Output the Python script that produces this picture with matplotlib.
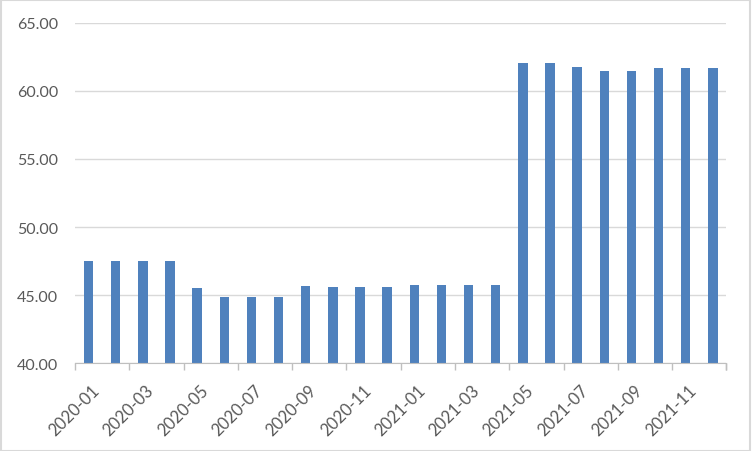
import matplotlib
matplotlib.use('Agg')
import matplotlib.pyplot as plt
import matplotlib.patches as mpatches
import numpy as np

plt.rcParams['font.family'] = ['Lato', 'DejaVu Sans']

months = ['2020-01', '2020-02', '2020-03', '2020-04', '2020-05', '2020-06',
          '2020-07', '2020-08', '2020-09', '2020-10', '2020-11', '2020-12',
          '2021-01', '2021-02', '2021-03', '2021-04', '2021-05', '2021-06',
          '2021-07', '2021-08', '2021-09', '2021-10', '2021-11', '2021-12']
values = [47.51, 47.51, 47.51, 47.51, 45.53, 44.89, 44.89, 44.89,
          45.70, 45.63, 45.63, 45.63, 45.77, 45.77, 45.77, 45.77,
          62.06, 62.06, 61.75, 61.48, 61.48, 61.67, 61.67, 61.67]
y_ticks = [40, 45, 50, 55, 60, 65]

fig = plt.figure(figsize=(7.52, 4.52), dpi=100)
fig.patch.set_facecolor('white')
ax = fig.add_axes([0.0997, 0.194, 0.8663, 0.7536])

x = np.arange(len(months))
ax.bar(x, [v - 40 for v in values], bottom=40, width=0.35, color='#4F81BD', zorder=3)

ax.set_xlim(-0.5, len(months) - 0.5)
ax.set_ylim(40, 65)
ax.set_yticks(y_ticks)
ax.set_yticklabels([f'{t:.2f}' for t in y_ticks], fontsize=11.5, color='#595959')
ax.grid(axis='y', color='#D9D9D9', linewidth=1, zorder=0)

# tick marks on category boundaries, labels on every other category
ax.set_xticks(np.arange(-0.5, len(months), 2).tolist() + [len(months) - 0.5])
ax.set_xticklabels([])
ax.tick_params(axis='x', which='major', length=5, color='#BFBFBF', width=1)
ax.set_xticks(x[::2] + 0.1, minor=True)
ax.set_xticklabels(months[::2], minor=True, rotation=45, ha='right',
                   rotation_mode='anchor', fontsize=12, color='#595959')
ax.tick_params(axis='x', which='minor', length=0, pad=13)
ax.tick_params(axis='y', length=0, pad=12)

for s in ['top', 'right', 'left']:
    ax.spines[s].set_visible(False)
ax.spines['bottom'].set_color('#BFBFBF')
ax.spines['bottom'].set_zorder(4)

fig.patches.append(mpatches.Rectangle((0.001, 0.001), 0.997, 0.996, transform=fig.transFigure,
                                      fill=False, edgecolor='#D9D9D9', linewidth=1.5))

plt.savefig('out.png', dpi=100, facecolor='white')
